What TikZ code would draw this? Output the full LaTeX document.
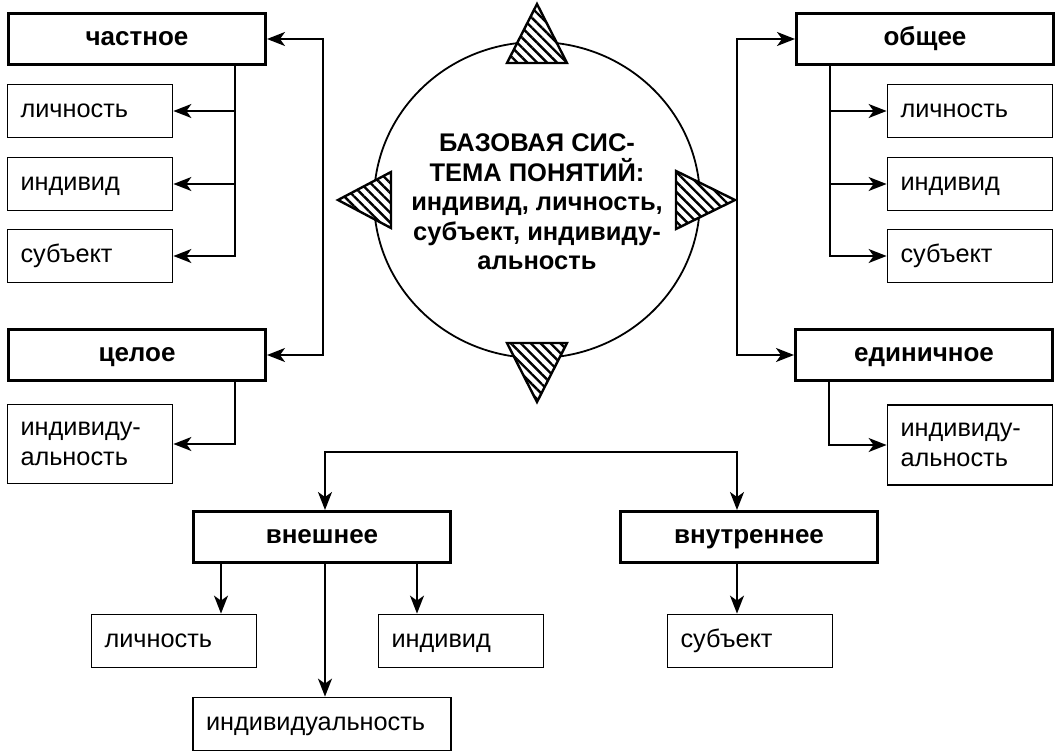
\documentclass[tikz,border=0pt]{standalone}
\usepackage{fontspec}
\setmainfont{Liberation Sans}
\usetikzlibrary{
    arrows.meta,
    positioning,
    patterns.meta
}

\tikzset{
    >={Stealth[length=18pt,width=14pt,inset=5pt]},
    headbox/.style={draw, line width=3pt, font=\fontsize{26pt}{28pt}\selectfont\bfseries,
        minimum width=257pt, minimum height=51pt, inner sep=0pt,
        text height=13pt, text depth=0pt},
    itembox2/.style={draw, line width=1.8pt, minimum height=53pt,
        text width=139pt, inner xsep=13pt, align=left,
        font=\fontsize{25.3pt}{30pt}\selectfont},
    itembox/.style={itembox2, text height=13pt, text depth=0pt},
    link/.style={line width=1.8pt, ->},
    hatch/.style={line width=2.4pt, preaction={fill=white},
        pattern={Lines[angle=-45,distance=7pt,line width=2.4pt]}}
}

\begin{document}
\begin{tikzpicture}[x=1pt,y=-1pt,font=\fontsize{25pt}{28pt}\selectfont]

\useasboundingbox (0,0) rectangle (1061,753);

% Centre
\coordinate (c) at (537,200);
\draw[line width=1.8pt] (c) ellipse [x radius=163, y radius=158];
\node[font=\fontsize{25.5pt}{29.5pt}\selectfont\bfseries, align=center] (base) at (537,202)
    {БАЗОВАЯ СИС-\\ТЕМА ПОНЯТИЙ:\\индивид, личность,\\субъект, индивиду-\\альность};

% Triangles
\draw[hatch] (507,63) -- (537,4) -- (567,63) -- cycle;
\draw[hatch] (507,343) -- (537,402) -- (567,343) -- cycle;
\draw[hatch] (391,172) -- (338,200) -- (391,228) -- cycle;
\draw[hatch] (676,171) -- (735,200) -- (676,229) -- cycle;

% Left
\node[headbox] (chast) at (137,39) {частное};
\node[itembox] (lL1) at (90,111) {личность};
\node[itembox] (lL2) at (90,184) {индивид};
\node[itembox] (lL3) at (90,256) {субъект};
\node[headbox] (tsel) at (137,355) {целое};
\node[itembox2, minimum height=79pt] (lL4) at (90,444) {индивиду-\\альность};

\coordinate (trL) at ([xshift=-32pt]chast.south east);
\draw[link] (trL) |- (lL3.east);
\foreach \n in {lL1,lL2}{
    \draw[link] (trL |- \n.east) -- (\n.east);
}
\draw[<->, line width=1.8pt] (chast.east) -- ++(56,0) |- (tsel.east);
\draw[link] ([xshift=-32pt]tsel.south east) |- (lL4.east);

% Right
\node[headbox] (obsh) at (925,39) {общее};
\node[itembox] (rR1) at (970,111) {личность};
\node[itembox] (rR2) at (970,184) {индивид};
\node[itembox] (rR3) at (970,256) {субъект};
\node[headbox] (edin) at (924,355) {единичное};
\node[itembox2, minimum height=80pt] (rR4) at (970,445) {индивиду-\\альность};

\coordinate (trR) at ([xshift=35pt]obsh.south west);
\draw[link] (trR) |- (rR3.west);
\foreach \n in {rR1,rR2}{
    \draw[link] (trR |- \n.west) -- (\n.west);
}
\draw[<->, line width=1.8pt] (obsh.west) -- ++(-58,0) |- (edin.west);
\draw[link] ([xshift=35pt]edin.south west) |- (rR4.west);

% Bottom
\node[headbox] (vnesh) at (322,537) {внешнее};
\node[headbox] (vnutr) at (749,537) {внутреннее};
\node[itembox] (bL) at (174,641) {личность};
\node[itembox] (bI) at (461,641) {индивид};
\node[itembox] (bS) at (750,641) {субъект};
\node[itembox, text width=232pt] (bU) at (322,724) {индивидуальность};

\coordinate (busL) at (325,452);
\coordinate (busR) at (737,452);
\draw[<->, line width=1.8pt] (busL |- vnesh.north) -- (busL) -- (busR) -- (busR |- vnutr.north);
\draw[link] ([xshift=29pt]vnesh.south west) -- ([xshift=29pt]vnesh.south west |- bL.north);
\draw[link] (vnesh.south -| busL) -- (bU.north -| busL);
\draw[link] ([xshift=-35pt]vnesh.south east) -- ([xshift=-35pt]vnesh.south east |- bI.north);
\draw[link] (vnutr.south -| busR) -- (bS.north -| busR);

\end{tikzpicture}
\end{document}
